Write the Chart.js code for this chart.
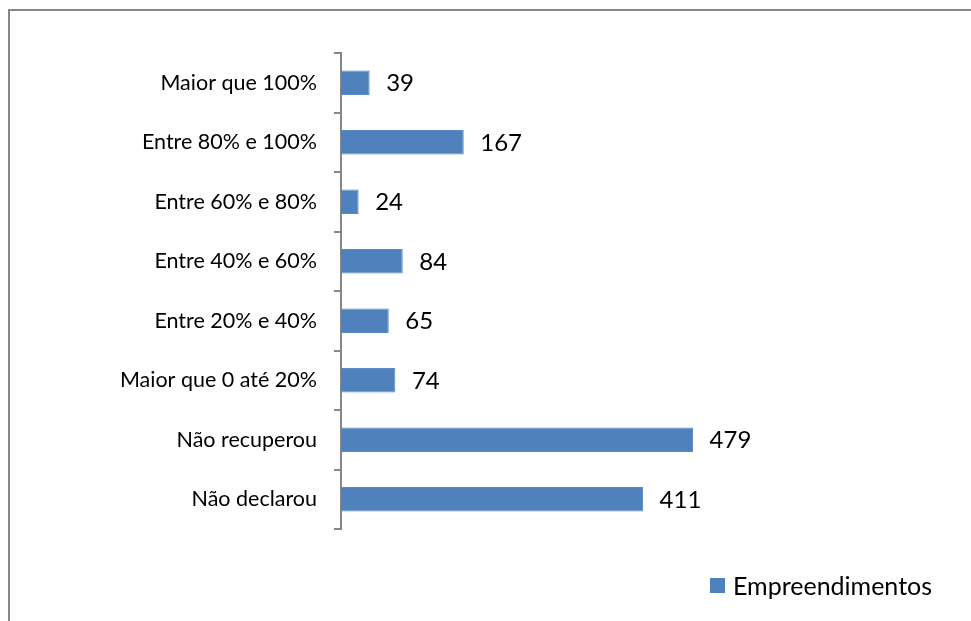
<!DOCTYPE html>
<html>
<head>
<meta charset="utf-8">
<script src="https://cdn.jsdelivr.net/npm/chart.js@4/dist/chart.umd.min.js"></script>
<style>
  html, body { margin: 0; padding: 0; background: #fff; }
  #wrap { position: relative; width: 971px; height: 621px; }
</style>
</head>
<body>
<div id="wrap"><canvas id="chart" width="971" height="621"></canvas></div>
<script>
// Faixas de recuperação e número de empreendimentos em cada uma
const categorias = [
  "Maior que 100%",
  "Entre 80% e 100%",
  "Entre 60% e 80%",
  "Entre 40% e 60%",
  "Entre 20% e 40%",
  "Maior que 0 até 20%",
  "Não recuperou",
  "Não declarou"
];
const empreendimentos = [39, 167, 24, 84, 65, 74, 479, 411];
const nomeSerie = "Empreendimentos";

const FONT = "Lato, 'Open Sans', sans-serif";
const AZUL = "#4F81BD";
const CINZA = "#878787";

// Moldura, rótulos de valor e legenda desenhados sobre o canvas
const extras = {
  id: "extras",
  beforeDraw(chart) {
    const ctx = chart.ctx;
    ctx.save();
    ctx.fillStyle = "#fff";
    ctx.fillRect(0, 0, chart.width, chart.height);
    ctx.fillStyle = CINZA;
    ctx.fillRect(8, 9, chart.width - 8, 2);
    ctx.fillRect(8, 9, 2, chart.height - 9);
    ctx.restore();
  },
  afterDatasetsDraw(chart) {
    const ctx = chart.ctx;
    const meta = chart.getDatasetMeta(0);
    ctx.save();
    ctx.font = "24px " + FONT;
    ctx.fillStyle = "#000";
    ctx.textAlign = "left";
    ctx.textBaseline = "middle";
    meta.data.forEach((bar, i) => {
      ctx.fillText(String(chart.data.datasets[0].data[i]), bar.x + 16.5, bar.y + 1);
    });
    // legenda
    const ds = chart.data.datasets[0];
    ctx.fillStyle = ds.backgroundColor;
    ctx.fillRect(710, 578, 15, 15);
    ctx.fillStyle = "#000";
    ctx.font = "25px " + FONT;
    ctx.fillText(ds.label, 733, 586.5);
    ctx.restore();
  }
};

new Chart(document.getElementById("chart"), {
  type: "bar",
  data: {
    labels: categorias,
    datasets: [{
      label: nomeSerie,
      data: empreendimentos,
      backgroundColor: AZUL,
      borderColor: "#5b8bc4",
      borderWidth: 1,
      barPercentage: 0.41,
      categoryPercentage: 1.0
    }]
  },
  options: {
    indexAxis: "y",
    responsive: false,
    animation: false,
    events: [],
    layout: { padding: { top: 53, bottom: 92, left: 0, right: 189 } },
    plugins: {
      legend: { display: false },
      tooltip: { enabled: false }
    },
    scales: {
      x: {
        display: false,
        min: 0,
        max: 600
      },
      y: {
        afterFit(scale) { scale.width = 341; },
        border: { display: true, color: CINZA, width: 2 },
        grid: {
          offset: true,
          drawOnChartArea: false,
          drawTicks: true,
          tickLength: 7,
          color: CINZA,
          lineWidth: 2
        },
        ticks: {
          autoSkip: false,
          padding: 17,
          color: "#000",
          font: { family: FONT, size: 21.5 }
        }
      }
    }
  },
  plugins: [extras]
});
</script>
</body>
</html>
